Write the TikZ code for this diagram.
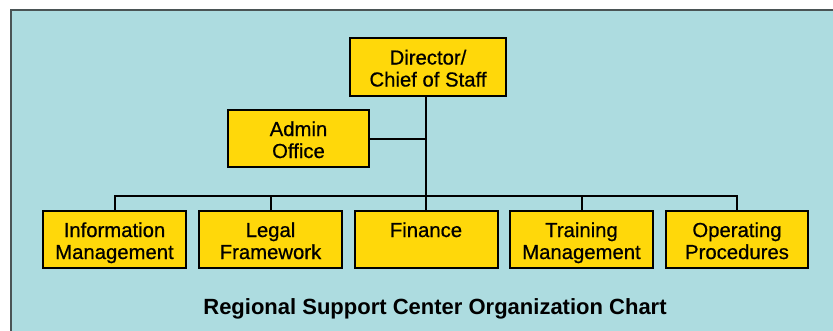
\documentclass[tikz,border=0pt]{standalone}
\usepackage{fontspec}
\setmainfont{Liberation Sans}
\newfontfamily\boxfont[FakeBold=0.6]{Liberation Sans}
\definecolor{bgblue}{HTML}{ADDCE0}
\definecolor{boxyellow}{HTML}{FFD80A}
\definecolor{frame}{HTML}{4A5455}
\begin{document}
\begin{tikzpicture}[x=1pt,y=-1pt,
  orgbox/.style={draw=black,line width=2pt,fill=boxyellow,minimum width=143pt,minimum height=57pt,
    inner sep=0pt,align=center,text height=39pt,text depth=0pt,font=\boxfont\fontsize{20.3}{22}\selectfont},
  link/.style={draw=black,line width=2pt}]
\useasboundingbox (0,0) rectangle (833,330);
\fill[bgblue,draw=frame,line width=2pt] (11,10) rectangle (845,345);
\node[orgbox,minimum width=156pt,minimum height=58pt] (dir) at (428,67) {Director/\\Chief of Staff};
\node[orgbox,minimum width=141pt] (adm) at (298.5,138.5) {Admin\\Office};
\node[orgbox] (info) at (114.5,239.5) {Information\\Management};
\node[orgbox] (legal) at (270.5,239.5) {Legal\\Framework};
\node[orgbox] (fin) at (426,239.5) {Finance\\\strut};
\node[orgbox] (train) at (581.5,239.5) {Training\\Management};
\node[orgbox,minimum width=142pt] (oper) at (737,239.5) {Operating\\Procedures};
\coordinate (bus) at (426,196);
\coordinate (admj) at (426,138.5);
\draw[link] (dir.south -| fin.north) -- (fin.north);
\draw[link] (adm.east) -- (admj);
\draw[link] (info.north) |- (bus) -| (oper.north);
\draw[link] (legal.north) -- (legal.north |- bus);
\draw[link] (train.north) -- (train.north |- bus);
\node[font=\bfseries\fontsize{22}{24}\selectfont,anchor=base] (title) at (435,314) {Regional Support Center Organization Chart};
\end{tikzpicture}
\end{document}
